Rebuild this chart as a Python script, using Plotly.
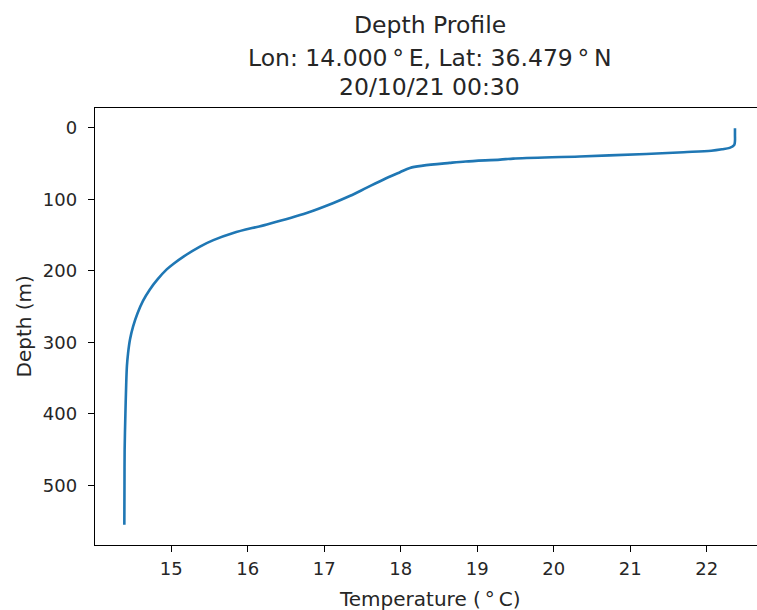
import plotly.graph_objects as go

# Temperature profile
depth_m = [0.5, 5, 10, 18, 24, 28, 30, 32, 34, 36.5, 40, 43, 44.4, 47, 49, 52.8, 56, 62, 72.5, 84, 95, 105, 119, 135, 147, 157, 166, 180, 190, 198, 212, 226, 242, 259, 278, 296, 315, 333, 360, 400, 450, 500, 555]
temp_c = [22.37, 22.37, 22.37, 22.37, 22.36, 22.30, 22.20, 22.06, 21.70, 21.21, 20.34, 19.47, 19.30, 18.85, 18.64, 18.29, 18.12, 17.99, 17.77, 17.55, 17.34, 17.12, 16.77, 16.25, 15.81, 15.55, 15.375, 15.16, 15.03, 14.94, 14.82, 14.72, 14.63, 14.56, 14.50, 14.46, 14.435, 14.42, 14.41, 14.40, 14.39, 14.388, 14.386]

x_ticks = [15, 16, 17, 18, 19, 20, 21, 22]
y_ticks = [0, 100, 200, 300, 400, 500]

title_lines = ["Depth Profile", "Lon: 14.000\u2009°\u2009E, Lat: 36.479\u2009°\u2009N", "20/10/21 00:30"]
x_label = "Temperature (\u2009°\u2009C)"
y_label = "Depth (m)"

FONT = "DejaVu Sans"
W, H = 757, 610
L, R, T, B = 95, 0, 108, 65
ph = H - T - B
pw = W - L - R

fig = go.Figure()
fig.add_trace(go.Scatter(x=temp_c, y=depth_m, mode="lines",
                         line=dict(color="#1f77b4", width=2.6, shape="spline", smoothing=0.9),
                         showlegend=False, hoverinfo="skip"))

axis_common = dict(showgrid=False, zeroline=False, showline=True, linecolor="black", linewidth=1.4,
                   ticks="outside", ticklen=6, tickwidth=1.4, tickcolor="black",
                   tickfont=dict(family=FONT, size=18, color="#262626"))

fig.update_xaxes(range=[14.0025, 22.658], tickvals=x_ticks, ticktext=[str(v) for v in x_ticks],
                 mirror=True, ticklabelstandoff=1, **axis_common)
fig.update_yaxes(range=[583.5, -27.8], tickvals=y_ticks, ticktext=[str(v) for v in y_ticks],
                 mirror=False, ticklabelstandoff=7, **axis_common)

# center of the (partially cropped) axes
cx = (430 - L) / pw
centers = [24.5, 58, 87]
ann = []
for txt, cy in zip(title_lines, centers):
    ann.append(dict(text=txt, x=cx, xref="paper", xanchor="center",
                    y=1 + (T - cy) / ph, yref="paper", yanchor="middle", showarrow=False,
                    font=dict(family=FONT, size=23.5, color="#262626")))
ann.append(dict(text=x_label, x=cx, xref="paper", xanchor="center",
                y=-(599 - (T + ph)) / ph, yref="paper", yanchor="middle", showarrow=False,
                font=dict(family=FONT, size=20, color="#262626")))
ann.append(dict(text=y_label, x=(23 - L) / pw, xref="paper", xanchor="center",
                y=0.5, yref="paper", yanchor="middle", textangle=-90, showarrow=False,
                font=dict(family=FONT, size=20, color="#262626")))

fig.update_layout(width=W, height=H, margin=dict(l=L, r=R, t=T, b=B),
                  plot_bgcolor="white", paper_bgcolor="white", annotations=ann)

fig.write_html("out.html")
